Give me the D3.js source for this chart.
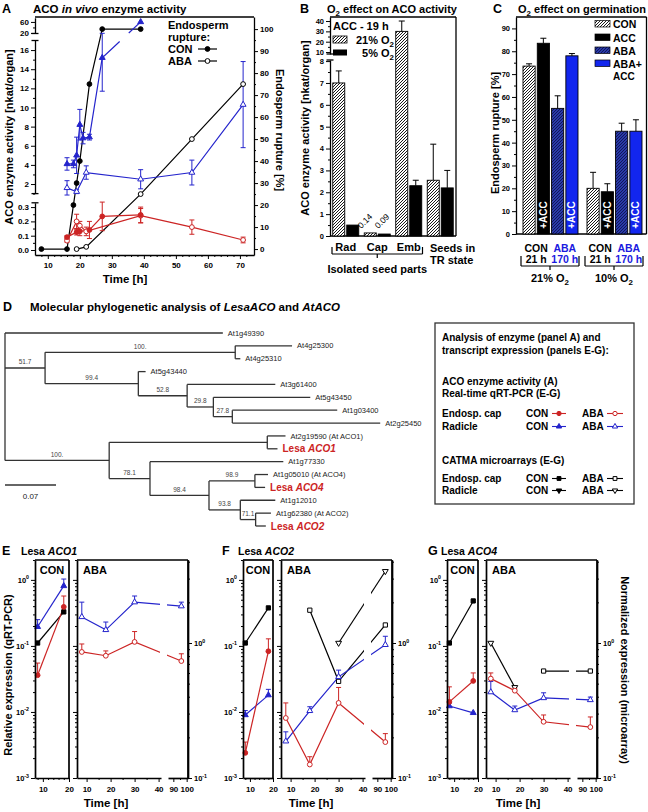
<!DOCTYPE html>
<html>
<head>
<meta charset="utf-8">
<script src="https://cdn.jsdelivr.net/npm/d3@7/dist/d3.min.js"></script>
<style>
html,body{margin:0;padding:0;background:#fff;}
svg{display:block;font-family:"Liberation Sans",Arial,Helvetica,sans-serif;}
</style>
</head>
<body>
<svg id="fig" width="648" height="812" viewBox="0 0 648 812"></svg>
<script>
// ================= DATA =================
// Panel A: ACO in vivo enzyme activity + endosperm rupture
const aEndoConT = [8, 16, 18, 19, 20, 23, 27, 39];
const aEndoCon  = [0, 0, 20, 30, 40, 75, 100, 100];
const aEndoAbaT = [19, 22, 39, 55, 71];
const aEndoAba  = [0, 1, 25, 50, 75];
const aRadConT  = [16, 18, 19, 20, 21, 23, 27, 39];
const aRadCon   = [4.1, 4.1, 5.0, 8.2, 6.8, 6.9, 15.2, 60];
const aRadConE  = [0.65, 0.4, 1.9, 1.6, 0.6, 0.3, 3.5, 0];
const aRadAbaT  = [16, 19, 22, 39, 55, 71];
const aRadAba   = [1.6, 1.2, 3.2, 2.5, 3.2, 10.3];
const aRadAbaE  = [0.75, 0.2, 0.7, 1.0, 1.3, 4.5];
const aCapConT  = [16, 19, 20, 23, 27, 39];
const aCapCon   = [0.09, 0.125, 0.13, 0.14, 0.235, 0.245];
const aCapConE  = [0.01, 0.02, 0.03, 0.06, 0.1, 0.055];
const aCapAbaT  = [16, 19, 20, 22, 39, 55, 71];
const aCapAba   = [0.065, 0.2, 0.17, 0.13, 0.24, 0.16, 0.07];
const aCapAbaE  = [0.01, 0.05, 0.03, 0.03, 0.05, 0.05, 0.02];
const aXTicks   = [10, 20, 30, 40, 50, 60, 70];
const aYTicksTop = [20, 60];
const aYTicksMid = [2, 4, 6, 8, 10, 12, 14, 16];
const aYTicksLow = [0, 0.1, 0.2, 0.3];
const aYTicksR   = [0, 10, 20, 30, 40, 50, 60, 70, 80, 90, 100];

// Panel B: O2 effect on ACO activity
const bCats  = ["Rad", "Cap", "Emb", "TR"];
const b21    = [7.0, 0.14, 30, 2.55];
const b21E   = [0.55, 0, 10, 1.65];
const b5     = [0.5, 0.09, 2.3, 2.2];
const b5E    = [0, 0, 0.25, 0.8];
const bTicksTop = [10, 20, 30, 40];
const bTicksLow = [0, 1, 2, 3, 4, 5, 6, 7, 8];

// Panel C: O2 effect on germination
const cTreat = ["CON", "ACC", "ABA", "ABA+ACC"];
const cO2    = ["21", "10"];
const c21    = [73.5, 83.5, 55, 78];
const c21E   = [1, 2.2, 5.5, 1];
const c10    = [20, 18.5, 45, 45];
const c10E   = [7, 3.5, 3.5, 5];
const cTicks = [0, 10, 20, 30, 40, 50, 60, 70, 80, 90];

// Panel D: phylogenetic tree (branch lengths, substitutions/site)
const treeData = {children: [
  {name: "At1g49390", len: 0.299},
  {len: 0.055, boot: "51.7", children: [
    {len: 0.261, boot: "100.", children: [{name: "At4g25300", len: 0.078}, {name: "At4g25310", len: 0.007}]},
    {len: 0.128, boot: "99.4", children: [
      {name: "At5g43440", len: 0.010},
      {len: 0.067, boot: "52.8", children: [
        {name: "At3g61400", len: 0.121},
        {len: 0.036, boot: "29.8", children: [
          {name: "At5g43450", len: 0.133},
          {len: 0.026, boot: "27.8", children: [{name: "At1g03400", len: 0.144}, {name: "At2g25450", len: 0.203}]}
        ]}
      ]}
    ]}
  ]},
  {len: 0.143, boot: "100.", children: [
    {len: 0.217, children: [{name: "At2g19590 (At ACO1)", len: 0.025}, {name: "ACO1", lesa: true, len: 0.014}]},
    {len: 0.056, boot: "78.1", children: [
      {name: "At1g77330", len: 0.183},
      {len: 0.081, boot: "98.4", children: [
        {len: 0.063, boot: "98.9", children: [{name: "At1g05010 (At ACO4)", len: 0.018}, {name: "ACO4", lesa: true, len: 0.014}]},
        {len: 0.043, boot: "93.8", children: [
          {name: "At1g12010", len: 0.048},
          {len: 0.021, boot: "71.1", children: [{name: "At1g62380 (At ACO2)", len: 0.021}, {name: "ACO2", lesa: true, len: 0.014}]}
        ]}
      ]}
    ]}
  ]}
]};

// Panels E-G: expression
const conTimes = [8, 18];
const abaTimes = [8, 18, 30, 96];
// E: Lesa ACO1
const aco1ConCapQ = [0.036, 0.39],  aco1ConCapQE = [0.019, 0.18];
const aco1ConRadQ = [0.195, 0.81],  aco1ConRadQE = [0.055, 0.22];
const aco1ConCapM = [1.0, 1.7];
const aco1AbaCapQ = [0.081, 0.071, 0.115, 0.059], aco1AbaCapQE = [0.026, 0.013, 0.05, 0.017];
const aco1AbaRadQ = [0.275, 0.175, 0.46, 0.40],   aco1AbaRadQE = [0.185, 0.055, 0.11, 0.06];
// F: Lesa ACO2
const aco2ConCapQ = [0.0024, 0.083], aco2ConCapQE = [0.0011, 0.045];
const aco2ConRadQ = [0.009, 0.018],  aco2ConRadQE = [0.0015, 0.004];
const aco2ConCapM = [1.0, 1.82];
const aco2AbaCapQ = [0.0081, 0.0016, 0.0137, 0.0035], aco2AbaCapQE = [0.0056, 0.0005, 0.0098, 0.0012];
const aco2AbaRadQ = [0.0036, 0.0104, 0.034, 0.104],   aco2AbaRadQE = [0.0014, 0.0016, 0.009, 0.036];
const aco2AbaCapM = [null, 1.75, 0.52, 1.36];
const aco2AbaRadM = [null, null, 1.0, 3.4];
// G: Lesa ACO4
const aco4ConCapQ = [0.0142, 0.0295], aco4ConCapQE = [0.0098, 0.0095];
const aco4ConRadQ = [0.0123, 0.0097], aco4ConRadQE = [0.0014, 0];
const aco4ConCapM = [1.0, 2.05];
const aco4AbaCapQ = [0.032, 0.021, 0.0071, 0.0059], aco4AbaCapQE = [0.007, 0.002, 0.0019, 0.0025];
const aco4AbaRadQ = [0.020, 0.0107, 0.0163, 0.0152], aco4AbaRadQE = [0.009, 0.0016, 0.0032, 0.0016];
const aco4AbaCapM = [null, null, 0.62, 0.62];
const aco4AbaRadM = [1.0, 0.47, null, null];

// ================= HELPERS =================
const svg = d3.select("#fig");
const RED = "#cc2424", BLUE = "#2424cc", BRIGHT = "#1226ee", LBLUE = "#1a1ae0";
const defs = svg.append("defs");
function hatch(id, bg, fg, sw, sp) {
  const p = defs.append("pattern").attr("id", id).attr("patternUnits", "userSpaceOnUse")
    .attr("width", sp).attr("height", sp);
  p.append("rect").attr("width", sp).attr("height", sp).attr("fill", bg);
  p.append("path").attr("d", `M0,${sp} L${sp},0 M${-sp/2},${sp/2} L${sp/2},${-sp/2} M${sp/2},${sp*1.5} L${sp*1.5},${sp/2}`)
    .attr("stroke", fg).attr("stroke-width", sw);
}
hatch("hW", "#fff", "#000", 0.9, 3);
hatch("hN", "#2a3aa8", "#0c1352", 0.9, 3);

function T(g, x, y, parts, o = {}) {
  const size = o.size || 11;
  const t = g.append("text").attr("x", x).attr("y", y).attr("font-size", size)
    .attr("text-anchor", o.anchor || "start").attr("font-weight", o.weight || "bold")
    .attr("fill", o.fill || "#000");
  if (o.transform) t.attr("transform", o.transform);
  if (o.dy) t.attr("dy", o.dy);
  let shift = 0;
  (Array.isArray(parts) ? parts : [parts]).forEach(p => {
    if (typeof p === "string") p = {t: p};
    const s = t.append("tspan").text(p.t);
    let target = 0;
    if (p.sub) target = size * 0.3;
    if (p.sup) target = -size * 0.4;
    if (target !== shift) { s.attr("dy", target - shift); shift = target; }
    if (p.sub || p.sup) s.attr("font-size", size * 0.72);
    if (p.i) s.attr("font-style", "italic");
    if (p.fill) s.attr("fill", p.fill);
  });
  return t;
}
function L(g, x1, y1, x2, y2, c = "#000", w = 1.3) {
  return g.append("line").attr("x1", x1).attr("y1", y1).attr("x2", x2).attr("y2", y2)
    .attr("stroke", c).attr("stroke-width", w);
}
function axis(g, orient, scale, vals, size, fmt, tx, ty, o = {}) {
  const mk = orient === "left" ? d3.axisLeft : orient === "right" ? d3.axisRight : d3.axisBottom;
  const a = mk(scale).tickValues(vals).tickSize(size).tickSizeOuter(0).tickPadding(o.pad ?? 2)
    .tickFormat(fmt || (() => ""));
  const ga = g.append("g").attr("transform", `translate(${tx},${ty})`).call(a);
  ga.attr("font-family", null).attr("font-size", o.fs || 8).attr("font-weight", "bold");
  ga.select(".domain").attr("stroke-width", o.sw || 1.3);
  ga.selectAll(".tick line").attr("stroke-width", o.tw || 1);
  if (o.noDomain) ga.select(".domain").remove();
  return ga;
}
function mark(g, type, x, y, color, filled, sc = 1) {
  const fill = filled ? color : "#fff";
  if (type === "circle") {
    g.append("circle").attr("cx", x).attr("cy", y).attr("r", 2.4 * sc)
      .attr("fill", fill).attr("stroke", color).attr("stroke-width", 1);
  } else {
    const sym = type === "sq" ? d3.symbolSquare : d3.symbolTriangle;
    const size = (type === "sq" ? 18 : 15) * sc * sc;
    g.append("path").attr("d", d3.symbol(sym, size)())
      .attr("transform", `translate(${x},${y})${type === "dtri" ? " rotate(180)" : ""}`)
      .attr("fill", fill).attr("stroke", color).attr("stroke-width", 1);
  }
}
function ebar(g, x, y0, y1, color, cap = 5, w = 1) {
  L(g, x, y0, x, y1, color, w);
  L(g, x - cap / 2, y1, x + cap / 2, y1, color, w);
}
function pline(g, pts, color, w = 1.2) {
  g.append("path").attr("d", d3.line()(pts)).attr("fill", "none").attr("stroke", color).attr("stroke-width", w);
}

// ================= PANEL A =================
const gA = svg.append("g");
T(gA, 2, 13, "A", {size: 12.5});
T(gA, 33, 13, ["ACO ", {t: "in vivo", i: true}, " enzyme activity"], {size: 11.5});
const ax  = d3.scaleLinear().domain([6, 74.4]).range([35, 254]);
const ay1 = d3.scaleLinear().domain([18, 75]).range([33.5, 17.8]);
const ay2 = d3.scaleLinear().domain([1, 17]).range([193.6, 40.5]);
const ay3 = d3.scaleLinear().domain([-0.035, 0.33]).range([255, 202.8]);
const ayR = d3.scaleLinear().domain([-2.7, 105.5]).range([255, 17]);
const yRad = v => v > 17 ? ay1(v) : ay2(v);

L(gA, 35, 17, 254, 17);
axis(gA, "bottom", ax, aXTicks, 4, d3.format("d"), 0, 255, {pad: 3});
axis(gA, "bottom", ax, d3.range(8, 74, 2).filter(v => v % 10), 2, null, 0, 255, {noDomain: true});
axis(gA, "left", ay1, aYTicksTop, 4, d3.format("d"), 35, 0);
axis(gA, "left", ay1, [40], 2, null, 35, 0, {noDomain: true});
axis(gA, "left", ay2, aYTicksMid, 4, d3.format("d"), 35, 0);
axis(gA, "left", ay2, [1, 3, 5, 7, 9, 11, 13, 15], 2, null, 35, 0, {noDomain: true});
axis(gA, "left", ay3, aYTicksLow, 4, d3.format(".1f"), 35, 0);
axis(gA, "left", ay3, [0.05, 0.15, 0.25], 2, null, 35, 0, {noDomain: true});
[33.5, 40.5, 193.6, 202.8].forEach(y => L(gA, 31.5, y, 38.5, y));
axis(gA, "right", ayR, aYTicksR, 4, d3.format("d"), 254, 0);
axis(gA, "right", ayR, d3.range(5, 100, 10), 2, null, 254, 0, {noDomain: true});

T(gA, 0, 0, "ACO enzyme activity [nkat/organ]", {size: 11, anchor: "middle", transform: "translate(9,137) rotate(-90)", dy: "0.35em"});
T(gA, 0, 0, "Endosperm rupture [%]", {size: 11, anchor: "middle", transform: "translate(280,130) rotate(90)", dy: "0.35em"});
T(gA, 125, 283, "Time [h]", {size: 11.5, anchor: "middle"});

const gAd = gA.append("g");
pline(gAd, aEndoConT.map((t, i) => [ax(t), ayR(aEndoCon[i])]), "#000");
pline(gAd, aEndoAbaT.map((t, i) => [ax(t), ayR(aEndoAba[i])]), "#000");
(function () {
  const lines = []; let cur = [];
  aRadConT.forEach((t, i) => {
    const p = [ax(t), yRad(aRadCon[i])];
    if (i > 0 && (aRadCon[i] > 17) !== (aRadCon[i - 1] > 17)) {
      const q = cur[cur.length - 1];
      const at = y => [q[0] + (p[0] - q[0]) * (y - q[1]) / (p[1] - q[1]), y];
      cur.push(at(41.5)); lines.push(cur); cur = [at(33)];
    }
    cur.push(p);
  });
  lines.push(cur);
  lines.forEach(l => pline(gAd, l, BLUE));
})();
pline(gAd, aRadAbaT.map((t, i) => [ax(t), ay2(aRadAba[i])]), BLUE);
pline(gAd, aCapConT.map((t, i) => [ax(t), ay3(aCapCon[i])]), RED);
pline(gAd, aCapAbaT.map((t, i) => [ax(t), ay3(aCapAba[i])]), RED);
aRadConT.forEach((t, i) => { if (aRadConE[i]) { const x = ax(t), y = yRad(aRadCon[i]);
  ebar(gAd, x, y, yRad(aRadCon[i] + aRadConE[i]), BLUE); ebar(gAd, x, y, yRad(aRadCon[i] - aRadConE[i]), BLUE); } });
aRadAbaT.forEach((t, i) => { const x = ax(t), y = ay2(aRadAba[i]);
  ebar(gAd, x, y, ay2(aRadAba[i] + aRadAbaE[i]), BLUE); ebar(gAd, x, y, ay2(aRadAba[i] - aRadAbaE[i]), BLUE); });
aCapConT.forEach((t, i) => { const x = ax(t), y = ay3(aCapCon[i]);
  ebar(gAd, x, y, ay3(aCapCon[i] + aCapConE[i]), RED); ebar(gAd, x, y, ay3(aCapCon[i] - aCapConE[i]), RED); });
aCapAbaT.forEach((t, i) => { const x = ax(t), y = ay3(aCapAba[i]);
  ebar(gAd, x, y, ay3(aCapAba[i] + aCapAbaE[i]), RED); ebar(gAd, x, y, ay3(aCapAba[i] - aCapAbaE[i]), RED); });
aCapAbaT.forEach((t, i) => mark(gAd, "circle", ax(t), ay3(aCapAba[i]), RED, false));
aCapConT.forEach((t, i) => mark(gAd, "circle", ax(t), ay3(aCapCon[i]), RED, true));
aRadAbaT.forEach((t, i) => mark(gAd, "tri", ax(t), ay2(aRadAba[i]), BLUE, false));
aRadConT.forEach((t, i) => mark(gAd, "tri", ax(t), yRad(aRadCon[i]), BLUE, true));
aEndoAbaT.forEach((t, i) => mark(gAd, "circle", ax(t), ayR(aEndoAba[i]), "#000", false));
aEndoConT.forEach((t, i) => mark(gAd, "circle", ax(t), ayR(aEndoCon[i]), "#000", true));
T(gA, 168, 29, "Endosperm", {size: 11});
T(gA, 168, 41, "rupture:", {size: 11});
T(gA, 168, 53, "CON", {size: 11});
T(gA, 168, 65, "ABA", {size: 11});
L(gA, 198, 49, 217, 49, "#000", 1.2); mark(gA, "circle", 207.5, 49, "#000", true);
L(gA, 198, 61, 217, 61, "#000", 1.2); mark(gA, "circle", 207.5, 61, "#000", false);

// ================= PANEL B =================
const gB = svg.append("g");
T(gB, 300, 13, "B", {size: 12.5});
T(gB, 327, 13, ["O", {t: "2", sub: true}, " effect on ACO activity"], {size: 11});
const bx  = d3.scaleBand().domain(bCats).range([330, 456]);
const by1 = d3.scaleLinear().domain([8.1, 43.9]).range([54, 17]);
const by2 = d3.scaleLinear().domain([0, 8.05]).range([236, 60]);
const yB = v => v > 8.05 ? by1(v) : by2(v);
L(gB, 330, 17, 456, 17); L(gB, 456, 17, 456, 236); L(gB, 330, 236, 456, 236);
axis(gB, "left", by1, bTicksTop, 4, d3.format("d"), 330, 0, {fs: 7.5});
axis(gB, "left", by1, [15, 25, 35], 2, null, 330, 0, {noDomain: true});
axis(gB, "left", by2, bTicksLow, 4, d3.format("d"), 330, 0, {fs: 7.5});
axis(gB, "left", by2, d3.range(0.5, 8, 1), 2, null, 330, 0, {noDomain: true});
[54, 60].forEach(y => L(gB, 326.5, y, 333.5, y));
bCats.forEach((c, i) => {
  const cx = bx(c) + bx.bandwidth() / 2;
  gB.append("rect").attr("x", cx - 13).attr("y", yB(b21[i])).attr("width", 12).attr("height", 236 - yB(b21[i]))
    .attr("fill", "url(#hW)").attr("stroke", "#000").attr("stroke-width", 0.9);
  gB.append("rect").attr("x", cx + 1).attr("y", yB(b5[i])).attr("width", 12).attr("height", 236 - yB(b5[i]))
    .attr("fill", "#000").attr("stroke", "#000").attr("stroke-width", 0.9);
  if (b21E[i]) ebar(gB, cx - 7, yB(b21[i]), yB(b21[i] + b21E[i]), "#000", 6);
  if (b5E[i]) ebar(gB, cx + 7, yB(b5[i]), yB(b5[i] + b5E[i]), "#000", 6);
  if (i < 3) T(gB, cx, 251, c, {size: 11, anchor: "middle"});
});
T(gB, 430, 252, "Seeds in", {size: 11});
T(gB, 430, 264, "TR state", {size: 11});
{
  const x1 = bx("Rad") + 2, x2 = bx("Emb") + bx.bandwidth() - 2, xm = bx("Cap") + bx.bandwidth() / 2;
  L(gB, x1, 254, x2, 254, "#000", 1.2); L(gB, x1, 254, x1, 247, "#000", 1.2); L(gB, x2, 254, x2, 247, "#000", 1.2);
  L(gB, xm, 254, xm, 258, "#000", 1.2);
  T(gB, xm, 273, "Isolated seed parts", {size: 11, anchor: "middle"});
  const cc = bx("Cap") + bx.bandwidth() / 2;
  T(gB, 0, 0, String(b21[1]), {size: 8.5, weight: "normal", transform: `translate(${cc - 16},${yB(b21[1]) - 4}) rotate(-45)`});
  T(gB, 0, 0, "0.09", {size: 8.5, weight: "normal", transform: `translate(${cc + 1},${yB(b5[1]) - 5}) rotate(-45)`});
}
T(gB, 0, 0, "ACO enzyme activity [nkat/organ]", {size: 11, anchor: "middle", transform: "translate(305,128) rotate(-90)", dy: "0.35em"});
T(gB, 333, 30, "ACC - 19 h", {size: 11});
gB.append("rect").attr("x", 333).attr("y", 36).attr("width", 14).attr("height", 7).attr("fill", "url(#hW)").attr("stroke", "#000").attr("stroke-width", 0.8);
T(gB, 394, 44, ["21% O", {t: "2", sub: true}], {size: 11, anchor: "end"});
gB.append("rect").attr("x", 333).attr("y", 49.5).attr("width", 14).attr("height", 6).attr("fill", "#000");
T(gB, 394, 57, ["5% O", {t: "2", sub: true}], {size: 11, anchor: "end"});

// ================= PANEL C =================
const gC = svg.append("g");
T(gC, 493, 13, "C", {size: 12.5});
T(gC, 518, 13, ["O", {t: "2", sub: true}, " effect on germination"], {size: 11});
const cy  = d3.scaleLinear().domain([0, 95]).range([234, 17]);
const cGx = d3.scaleBand().domain(cO2).range([517, 645]);
const cIx = d3.scaleBand().domain(cTreat).range([6, 61]).paddingInner(0.15);
L(gC, 516, 17, 646.5, 17); L(gC, 646.5, 17, 646.5, 234); L(gC, 516, 234, 646.5, 234);
axis(gC, "left", cy, cTicks, 4, d3.format("d"), 516, 0, {fs: 7.5});
axis(gC, "left", cy, d3.range(5, 95, 10), 2, null, 516, 0, {noDomain: true});
const cFill = {"CON": "url(#hW)", "ACC": "#000", "ABA": "url(#hN)", "ABA+ACC": BRIGHT};
cO2.forEach((o, gi) => {
  const vals = gi === 0 ? c21 : c10, errs = gi === 0 ? c21E : c10E;
  const g0 = cGx(o), bw = cIx.bandwidth();
  cTreat.forEach((tr, i) => {
    const x = g0 + cIx(tr), y = cy(vals[i]);
    gC.append("rect").attr("x", x).attr("y", y).attr("width", bw).attr("height", 234 - y)
      .attr("fill", cFill[tr]).attr("stroke", "#000").attr("stroke-width", 0.9);
    ebar(gC, x + bw / 2, y, cy(vals[i] + errs[i]), "#000", 6);
    if (tr === "ACC" || tr === "ABA+ACC")
      T(gC, 0, 0, "+ACC", {size: 10, fill: "#fff", anchor: "middle", transform: `translate(${x + bw / 2},215) rotate(-90)`, dy: "0.35em"});
  });
  const xCon = g0 + (cIx("CON") + cIx("ACC") + bw) / 2, xAba = g0 + (cIx("ABA") + cIx("ABA+ACC") + bw) / 2;
  T(gC, xCon, 252, "CON", {size: 10.5, anchor: "middle"});
  T(gC, xCon, 263, "21 h", {size: 10.5, anchor: "middle"});
  T(gC, xAba, 252, "ABA", {size: 10.5, anchor: "middle", fill: LBLUE});
  T(gC, xAba, 263, "170 h", {size: 10.5, anchor: "middle", fill: LBLUE});
  const x1 = g0 + 4, x2 = g0 + 62, xm = (x1 + x2) / 2;
  L(gC, x1, 266, x2, 266, "#000", 1.2); L(gC, x1, 266, x1, 256, "#000", 1.2); L(gC, x2, 266, x2, 256, "#000", 1.2);
  L(gC, xm, 266, xm, 270, "#000", 1.2);
  T(gC, xm, 282, [(gi === 0 ? "21" : "10") + "% O", {t: "2", sub: true}], {size: 11, anchor: "middle"});
});
T(gC, 0, 0, "Endosperm rupture [%]", {size: 11, anchor: "middle", transform: "translate(495,133) rotate(-90)", dy: "0.35em"});
[["CON", 28, "url(#hW)"], ["ACC", 41.5, "#000"], ["ABA", 54.5, "url(#hN)"], ["ABA+", 67.5, BRIGHT]].forEach(([lab, y, f]) => {
  gC.append("rect").attr("x", 595).attr("y", y - 7.5).attr("width", 15).attr("height", 6.5).attr("fill", f).attr("stroke", "#000").attr("stroke-width", 0.7);
  T(gC, 613, y, lab, {size: 10.5});
});
T(gC, 613, 79.5, "ACC", {size: 10});

// ================= PANEL D =================
const gD = svg.append("g");
T(gD, 3, 311, "D", {size: 12.5});
T(gD, 30, 311, ["Molecular phylogenetic analysis of ", {t: "LesaACO", i: true}, " and ", {t: "AtACO", i: true}], {size: 11.5});
const root = d3.hierarchy(treeData);
root.eachBefore(d => { d.dist = d.parent ? d.parent.dist + d.data.len : 0; });
const leaves = root.leaves();
const tx = d3.scaleLinear().domain([0, 0.07]).range([5, 56]);
const ty = d3.scalePoint().domain(leaves.map((d, i) => i)).range([333, 526]);
leaves.forEach((d, i) => d.py = ty(i));
root.eachAfter(d => { if (d.children) d.py = (d.children[0].py + d.children[d.children.length - 1].py) / 2; });
const gT = gD.append("g");
root.each(d => {
  if (d.parent) L(gT, tx(d.parent.dist), d.py, tx(d.dist), d.py, "#333", 1.3);
  if (d.children) L(gT, tx(d.dist), d.children[0].py, tx(d.dist), d.children[d.children.length - 1].py, "#333", 1.3);
});
root.each(d => {
  if (d.data.boot) T(gD, (tx(d.parent.dist) + tx(d.dist)) / 2, d.py - 3.5, d.data.boot, {size: 6.5, weight: "normal", anchor: "middle", fill: "#444"});
  if (!d.children) {
    if (d.data.lesa) T(gD, tx(d.dist) + 5, d.py + 3.5, ["Lesa ", {t: d.data.name, i: true}], {size: 10, fill: RED});
    else T(gD, tx(d.dist) + 5, d.py + 2.6, d.data.name, {size: 7.5, weight: "normal", fill: "#222"});
  }
});
L(gD, tx(0), 485, tx(0.07), 485, "#333", 1.3);
T(gD, (tx(0) + tx(0.07)) / 2, 499, "0.07", {size: 8, weight: "normal", anchor: "middle", fill: "#222"});
gD.append("rect").attr("x", 435).attr("y", 323).attr("width", 199).attr("height", 181)
  .attr("fill", "#fff").attr("stroke", "#333").attr("stroke-width", 1.3);
const lfs = 10;
T(gD, 442, 341, "Analysis of enzyme (panel A) and", {size: lfs});
T(gD, 442, 354, "transcript expression (panels E-G):", {size: lfs});
T(gD, 442, 385, "ACO enzyme activity (A)", {size: lfs});
T(gD, 442, 397, "Real-time qRT-PCR (E-G)", {size: lfs});
T(gD, 442, 464, "CATMA microarrays (E-G)", {size: lfs});
const legRows = [
  ["Endosp. cap", 417, RED, "circle"],
  ["Radicle", 430, BLUE, "tri"],
  ["Endosp. cap", 482, "#000", "sq"],
  ["Radicle", 494, "#000", "dtri"]
];
legRows.forEach(([lab, y, col, tp]) => {
  T(gD, 442, y, lab, {size: lfs});
  T(gD, 526, y, "CON", {size: lfs});
  T(gD, 582, y, "ABA", {size: lfs});
  L(gD, 552, y - 3.5, 566, y - 3.5, col, 1.1); mark(gD, tp, 559, y - 3.5, col, true, 0.9);
  L(gD, 607, y - 3.5, 623, y - 3.5, col, 1.1); mark(gD, tp, 615, y - 3.5, col, false, 0.9);
});

// ================= PANELS E-G =================
const exprPanels = [
  {letter: "E", gene: "ACO1", lx: 2, gx: 21, conL: 35, abaL: 77, timeX: 106,
   con: {capQ: aco1ConCapQ, capQE: aco1ConCapQE, radQ: aco1ConRadQ, radQE: aco1ConRadQE, capM: aco1ConCapM},
   aba: {capQ: aco1AbaCapQ, capQE: aco1AbaCapQE, radQ: aco1AbaRadQ, radQE: aco1AbaRadQE}},
  {letter: "F", gene: "ACO2", lx: 222, gx: 238, conL: 243, abaL: 281, timeX: 311,
   con: {capQ: aco2ConCapQ, capQE: aco2ConCapQE, radQ: aco2ConRadQ, radQE: aco2ConRadQE, capM: aco2ConCapM},
   aba: {capQ: aco2AbaCapQ, capQE: aco2AbaCapQE, radQ: aco2AbaRadQ, radQE: aco2AbaRadQE, capM: aco2AbaCapM, radM: aco2AbaRadM}},
  {letter: "G", gene: "ACO4", lx: 428, gx: 441, conL: 447, abaL: 486, timeX: 518,
   con: {capQ: aco4ConCapQ, capQE: aco4ConCapQE, radQ: aco4ConRadQ, radQE: aco4ConRadQE, capM: aco4ConCapM},
   aba: {capQ: aco4AbaCapQ, capQE: aco4AbaCapQE, radQ: aco4AbaRadQ, radQE: aco4AbaRadQE, capM: aco4AbaCapM, radM: aco4AbaRadM}}
];
function supLabels(ga, fs) {
  ga.selectAll(".tick text").each(function (d) {
    const e = Math.round(Math.log10(d));
    const t = d3.select(this); t.text("");
    t.append("tspan").text("10");
    t.append("tspan").attr("dy", -fs * 0.45).attr("font-size", fs * 0.7).text(String(e));
  });
}
const majL = [0.001, 0.01, 0.1, 1];
const minL = []; majL.forEach(d => { for (let k = 2; k <= 9; k++) if (k * d <= 2.0001) minL.push(k * d); });
const majR = [0.1, 1];
const minR = []; majR.forEach(d => { for (let k = 2; k <= 9; k++) if (k * d <= 4.12) minR.push(k * d); });

function drawExpr(P) {
  const g = svg.append("g");
  const top = 560, bot = 778, conL = P.conL, conR = P.abaL - 8, abaL = P.abaL, abaR = P.abaL + 111;
  const yL = d3.scaleLog().domain([0.001, 2]).range([bot, top]);
  const yR = d3.scaleLog().domain([0.1, 4.12]).range([bot, top]);
  const xC = d3.scaleLinear().domain([7, 20]).range([conL, conR]);
  const xA1 = d3.scaleLinear().domain([6, 41]).range([abaL, abaL + 84]);
  const xA2 = d3.scaleLinear().domain([86, 101]).range([abaL + 91, abaR]);
  const xA = t => t < 60 ? xA1(t) : xA2(t);
  T(g, P.lx, 555, P.letter, {size: 12.5});
  T(g, P.gx, 555, ["Lesa ", {t: P.gene, i: true}], {size: 10.5});
  const specs = [
    {k: "capM", s: yR, c: "#000", type: "sq"},
    {k: "radM", s: yR, c: "#000", type: "dtri"},
    {k: "radQ", s: yL, c: BLUE, type: "tri"},
    {k: "capQ", s: yL, c: RED, type: "circle"}
  ];
  const panes = [{d: P.con, T: conTimes, x: xC, filled: true}, {d: P.aba, T: abaTimes, x: xA, filled: false}];
  const dl = g.append("g");
  panes.forEach(pn => specs.forEach(sp => {
    const v = pn.d[sp.k]; if (!v) return;
    const pts = pn.T.map((t, i) => v[i] == null ? null : [pn.x(t), sp.s(v[i])]);
    dl.append("path").attr("d", d3.line().defined(p => p !== null)(pts)).attr("fill", "none")
      .attr("stroke", sp.c).attr("stroke-width", 1.2);
  }));
  g.append("rect").attr("x", abaL + 83).attr("y", top + 2).attr("width", 7).attr("height", bot - top - 3).attr("fill", "#fff");
  const mk = g.append("g");
  panes.forEach(pn => specs.forEach(sp => {
    const v = pn.d[sp.k], e = pn.d[sp.k + "E"]; if (!v) return;
    pn.T.forEach((t, i) => {
      if (v[i] == null || !e || !e[i]) return;
      ebar(mk, pn.x(t), sp.s(v[i]), sp.s(v[i] + e[i]), sp.c, 5);
    });
  }));
  panes.forEach(pn => specs.forEach(sp => {
    const v = pn.d[sp.k]; if (!v) return;
    pn.T.forEach((t, i) => { if (v[i] != null) mark(mk, sp.type, pn.x(t), sp.s(v[i]), sp.c, pn.filled); });
  }));
  const fw = 1.7;
  L(g, conL, top, conR, top, "#000", fw); L(g, conR, top, conR, bot, "#000", fw);
  L(g, abaL, top, abaR, top, "#000", fw); L(g, abaR, top, abaR, bot, "#000", fw);
  const aL = axis(g, "left", yL, majL, 4, d => "x", conL, 0, {fs: 7.5, sw: fw});
  supLabels(aL, 7.5);
  axis(g, "left", yL, minL, 2, null, conL, 0, {noDomain: true});
  axis(g, "left", yL, majL, 4, null, abaL, 0, {sw: fw});
  axis(g, "left", yL, minL, 2, null, abaL, 0, {noDomain: true});
  const aR = axis(g, "right", yR, majR, 4, d => "x", abaR, 0, {fs: 7.5, sw: fw});
  supLabels(aR, 7.5);
  axis(g, "right", yR, minR, 2, null, abaR, 0, {noDomain: true});
  axis(g, "bottom", xC, [10, 20], 4, d3.format("d"), 0, bot, {fs: 8, sw: fw, pad: 4});
  axis(g, "bottom", xC, [8, 12, 14, 16, 18], 2, null, 0, bot, {noDomain: true});
  axis(g, "bottom", xA1, [10, 20, 30, 40], 4, d3.format("d"), 0, bot, {fs: 8, sw: fw, pad: 4});
  axis(g, "bottom", xA1, [15, 25, 35], 2, null, 0, bot, {noDomain: true});
  axis(g, "bottom", xA2, [90, 100], 4, d3.format("d"), 0, bot, {fs: 8, sw: fw, pad: 4});
  axis(g, "bottom", xA2, [95], 2, null, 0, bot, {noDomain: true});
  T(g, (conL + conR) / 2, 574, "CON", {size: 11, anchor: "middle"});
  T(g, abaL + 6, 574, "ABA", {size: 11});
  T(g, P.timeX, 807, "Time [h]", {size: 11.5, anchor: "middle"});
}
exprPanels.forEach(drawExpr);
T(svg, 0, 0, "Relative expression (qRT-PCR)", {size: 11, anchor: "middle", transform: "translate(8,675) rotate(-90)", dy: "0.35em"});
T(svg, 0, 0, "Normalized expression (microarray)", {size: 11, anchor: "middle", transform: "translate(625,670) rotate(90)", dy: "0.35em"});
</script>
</body>
</html>
